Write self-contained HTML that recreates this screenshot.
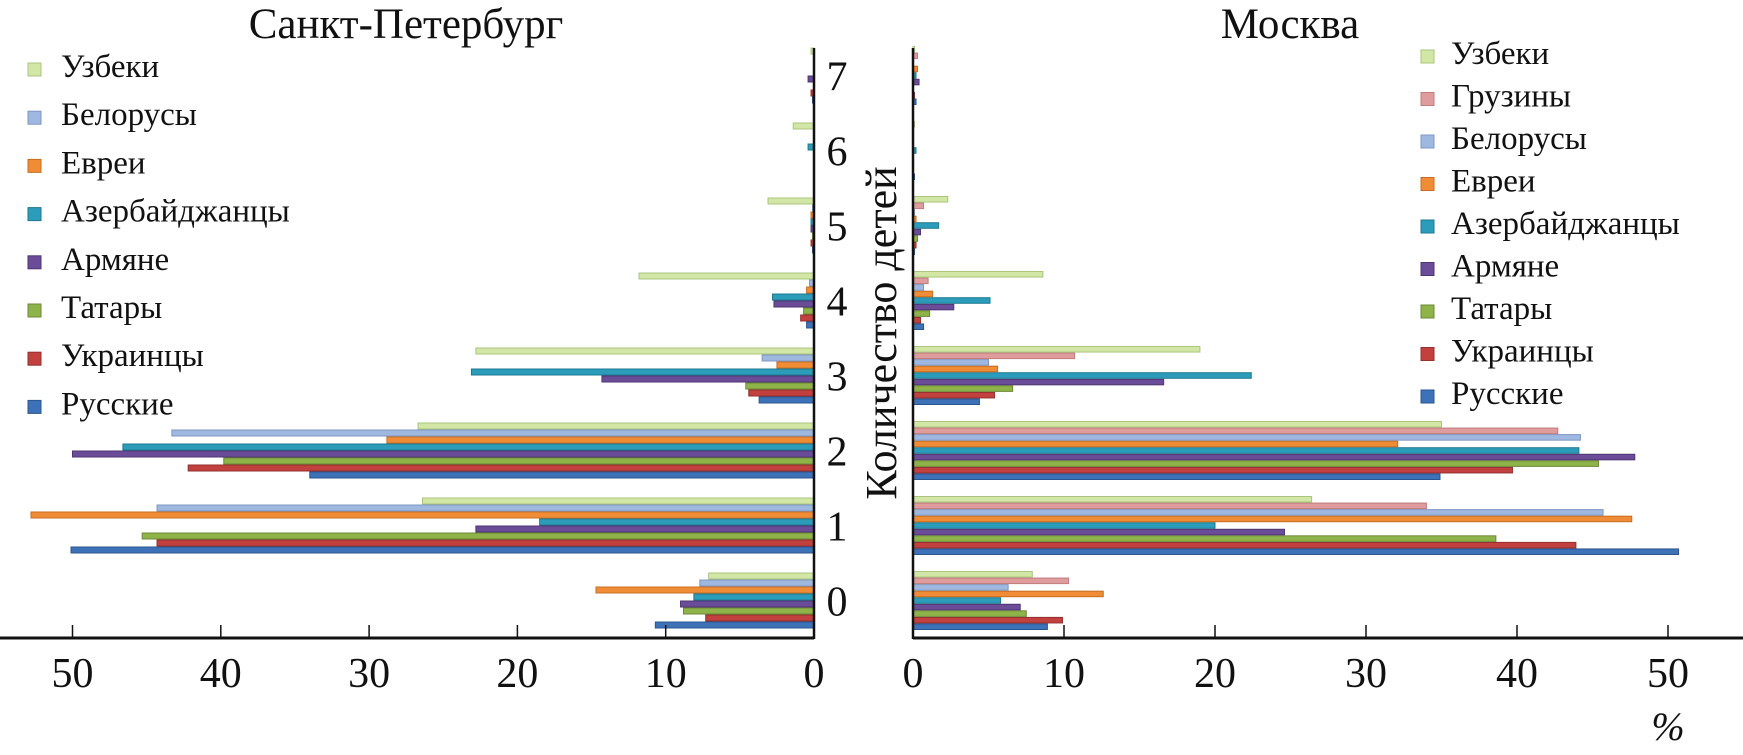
<!DOCTYPE html>
<html><head><meta charset="utf-8">
<style>
html,body{margin:0;padding:0;background:#fff;}
svg{display:block;font-family:"Liberation Serif","DejaVu Serif",serif;}
</style></head>
<body>
<svg id="chart" width="1743" height="755" viewBox="0 0 1743 755" xmlns="http://www.w3.org/2000/svg">
  <text x="406" y="38" font-size="43" text-anchor="middle" fill="#111">Санкт-Петербург</text>
  <text x="1290" y="38" font-size="43" text-anchor="middle" fill="#111">Москва</text>
  <text transform="translate(896,333) rotate(-90)" font-size="44" text-anchor="middle" fill="#111">Количество детей</text>
  <text x="1668" y="740" font-size="40" font-style="italic" text-anchor="middle" fill="#111">%</text>
  <g id="bars"></g>
  <g id="axes"></g>
  <g id="legends"></g>
</svg>
<script>
const categories = [0,1,2,3,4,5,6,7];
const spbSeries = ["Русские","Украинцы","Татары","Армяне","Азербайджанцы","Евреи","Белорусы","Узбеки"];
const spbRus = [10.7,50.1,34.0,3.7,0.5,0.1,0.0,0.1];
const spbUkr = [7.3,44.3,42.2,4.4,0.9,0.2,0.0,0.2];
const spbTat = [8.8,45.3,39.8,4.6,0.7,0.1,0.0,0.0];
const spbArm = [9.0,22.8,50.0,14.3,2.7,0.2,0.0,0.4];
const spbAze = [8.1,18.5,46.6,23.1,2.8,0.2,0.4,0.0];
const spbJew = [14.7,52.8,28.8,2.5,0.5,0.2,0.0,0.0];
const spbBel = [7.7,44.3,43.3,3.5,0.3,0.1,0.0,0.0];
const spbUzb = [7.1,26.4,26.7,22.8,11.8,3.1,1.4,0.2];
const mosSeries = ["Русские","Украинцы","Татары","Армяне","Азербайджанцы","Евреи","Белорусы","Грузины","Узбеки"];
const mosRus = [8.9,50.7,34.9,4.4,0.7,0.1,0.1,0.2];
const mosUkr = [9.9,43.9,39.7,5.4,0.5,0.2,0.0,0.1];
const mosTat = [7.5,38.6,45.4,6.6,1.1,0.3,0.0,0.0];
const mosArm = [7.1,24.6,47.8,16.6,2.7,0.5,0.0,0.4];
const mosAze = [5.8,20.0,44.1,22.4,5.1,1.7,0.2,0.2];
const mosJew = [12.6,47.6,32.1,5.6,1.3,0.2,0.0,0.3];
const mosBel = [6.3,45.7,44.2,5.0,0.7,0.1,0.0,0.0];
const mosGeo = [10.3,34.0,42.7,10.7,1.0,0.7,0.0,0.3];
const mosUzb = [7.9,26.4,35.0,19.0,8.6,2.3,0.1,0.1];
const xTicks = [0,10,20,30,40,50];

const colors = {"Русские":"#3d72b8","Украинцы":"#c2403d","Татары":"#8db349","Армяне":"#6b4c98","Азербайджанцы":"#2b9cba","Евреи":"#f08c35","Белорусы":"#9fb8e0","Грузины":"#de9c9d","Узбеки":"#d2e6a6"};
const borders = {"Русские":"#2a558e","Украинцы":"#923130","Татары":"#6b8a35","Армяне":"#4e3672","Азербайджанцы":"#1e7890","Евреи":"#c76f22","Белорусы":"#7d97c2","Грузины":"#bf7d7e","Узбеки":"#a9c57e"};
const spbData = [spbRus,spbUkr,spbTat,spbArm,spbAze,spbJew,spbBel,spbUzb];
const mosData = [mosRus,mosUkr,mosTat,mosArm,mosAze,mosJew,mosBel,mosGeo,mosUzb];

const NS="http://www.w3.org/2000/svg";
const axisY=638, plotTop=38, band=(axisY-plotTop)/categories.length;
const spbX0=814, spbK=14.83, mosX0=913, mosK=15.1;
const xSpb = v => spbX0 - v*spbK;
const xMos = v => mosX0 + v*mosK;
const yCenter = c => axisY - (c+0.5)*band;
function mk(tag, attrs, parent){const e=document.createElementNS(NS,tag);for(const k in attrs)e.setAttribute(k,attrs[k]);parent.appendChild(e);return e;}
const gBars=document.getElementById('bars'), gAxes=document.getElementById('axes'), gLeg=document.getElementById('legends');

function drawSide(series, data, side){
  const n=series.length, bh=(side==='spb'?56:59)/n;
  categories.forEach((c,ci)=>{
    const top=yCenter(c)+ (n*bh)/2;
    series.forEach((s,si)=>{
      const v=data[si][ci];
      const y=top-(si+1)*bh;
      let x,w;
      if(side==='spb'){x=xSpb(v);w=spbX0-x;} else {x=mosX0;w=xMos(v)-mosX0;}
      const r=mk('rect',{x:x,y:y+0.5,width:Math.max(w,0),height:bh-1,fill:colors[s],stroke:borders[s],'stroke-width':1},gBars);
      
      
    });
  });
}
drawSide(spbSeries, spbData, 'spb');
drawSide(mosSeries, mosData, 'mos');

let l;
l=mk('line',{x1:0,y1:axisY,x2:spbX0,y2:axisY,stroke:'#111','stroke-width':3},gAxes);


l=mk('line',{x1:mosX0,y1:axisY,x2:1743,y2:axisY,stroke:'#111','stroke-width':3},gAxes);


l=mk('line',{x1:spbX0,y1:48,x2:spbX0,y2:axisY+1,stroke:'#111','stroke-width':2.5},gAxes);


l=mk('line',{x1:mosX0,y1:48,x2:mosX0,y2:axisY+1,stroke:'#111','stroke-width':2.5},gAxes);


xTicks.forEach(t=>{
  [['spb',xSpb(t)],['moscow',xMos(t)]].forEach(([side,x])=>{
    const tk=mk('line',{x1:x,y1:axisY-13,x2:x,y2:axisY,stroke:'#111','stroke-width':1.5},gAxes);
    
    
    const tx=mk('text',{x:x,y:687,'font-size':42,'text-anchor':'middle',fill:'#111'},gAxes);
    tx.textContent=t;
    
    
  });
});
categories.forEach(c=>{
  const tx=mk('text',{x:837,y:yCenter(c)+15,'font-size':42,'text-anchor':'middle',fill:'#111'},gAxes);
  tx.textContent=c;
  
  
});

function legend(series, x, y0, dy, fs, tx, side){
  const rev=series.slice().reverse();
  rev.forEach((s,i)=>{
    const y=y0+i*dy;
    const g=mk('g',{},gLeg);
    
    
    mk('rect',{x:x,y:y-14,width:13,height:13,fill:colors[s],stroke:borders[s],'stroke-width':1},g);
    const t=mk('text',{x:x+tx,y:y,'font-size':fs,fill:'#111'},g);
    t.textContent=s;
  });
}
legend(spbSeries, 28, 77, 48.2, 33, 33, 'spb');
legend(mosSeries, 1421, 64, 42.5, 33, 30, 'moscow');
</script>
</body></html>
